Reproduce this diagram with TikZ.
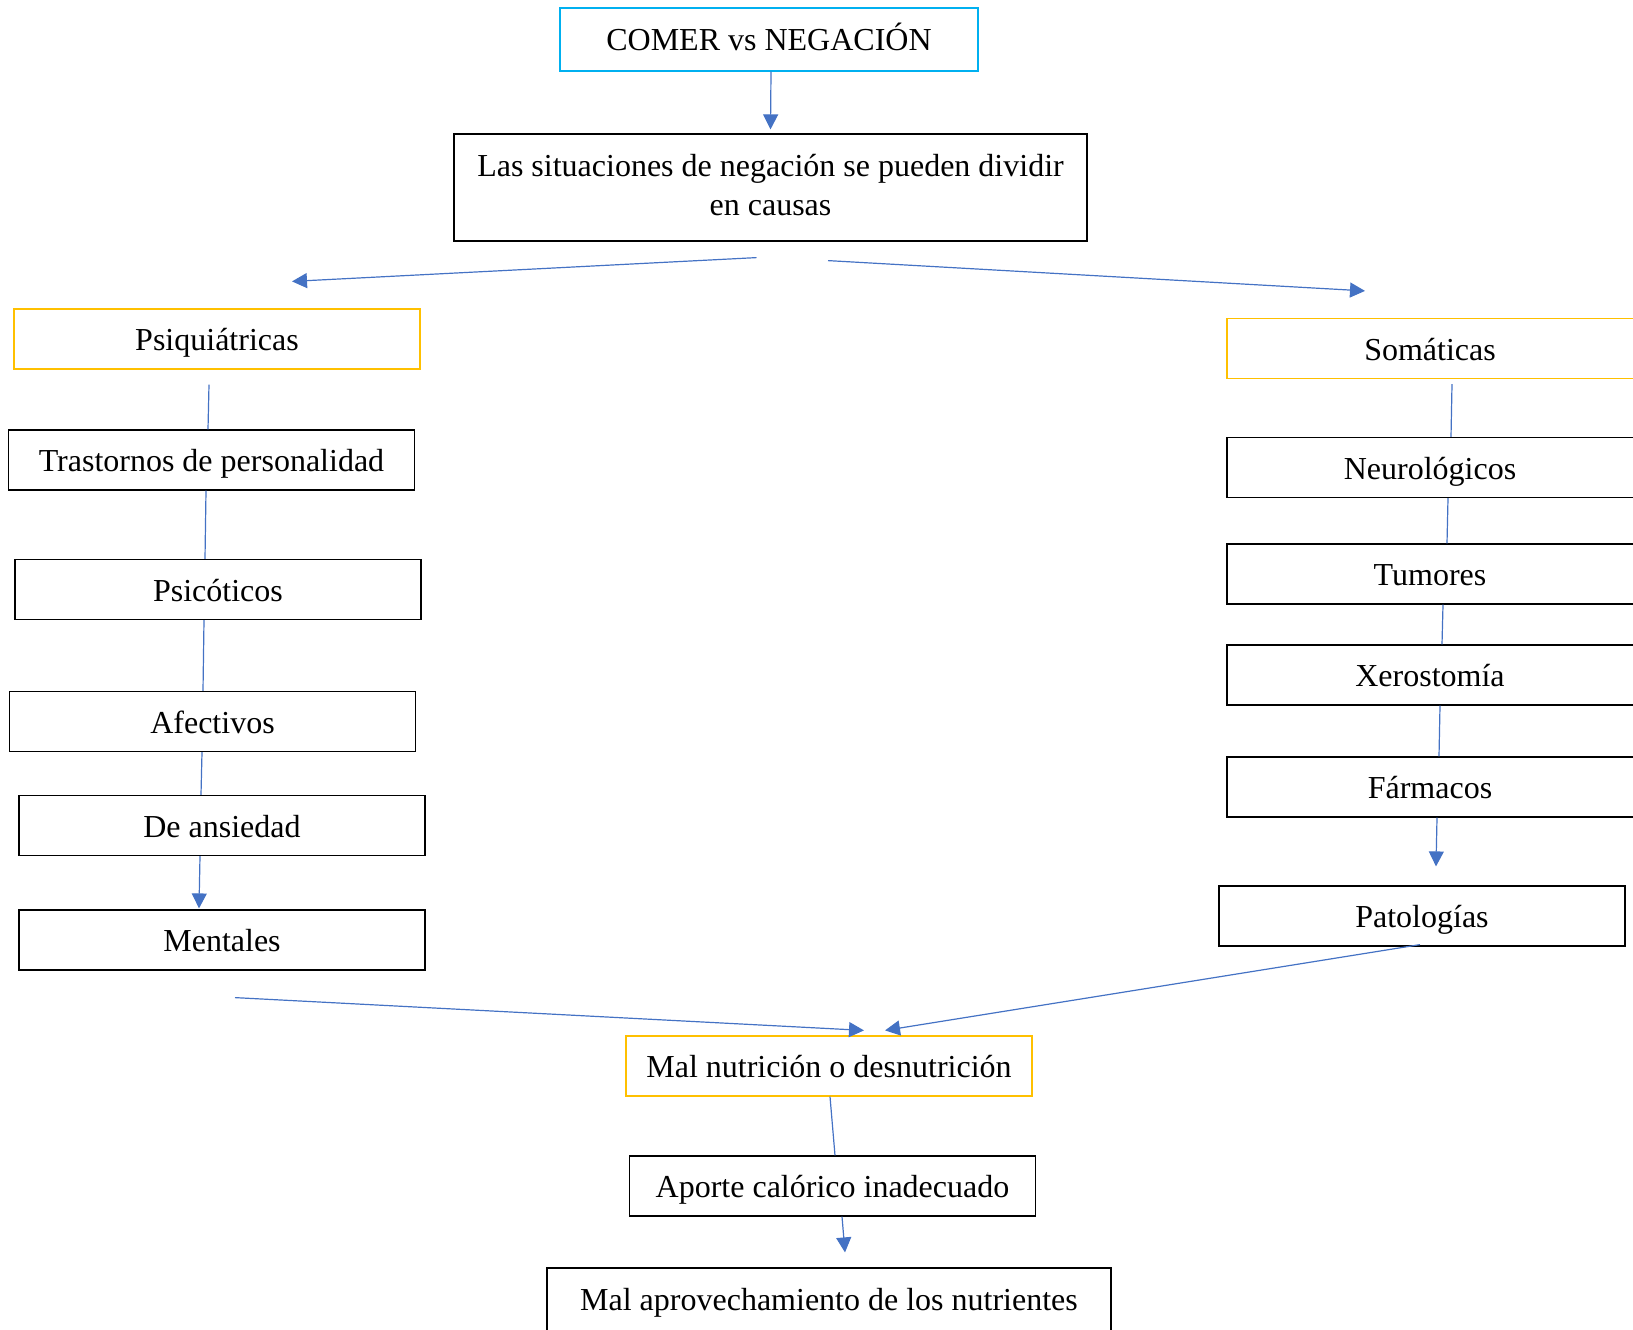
\documentclass[tikz,border=0pt]{standalone}
\usepackage{fontspec}
\setmainfont{Liberation Serif}
\usetikzlibrary{arrows.meta}
\definecolor{linea}{HTML}{4472C4}
\definecolor{amarillo}{HTML}{FFC000}
\definecolor{celeste}{HTML}{00B0F0}

\begin{document}
\begin{tikzpicture}[x=0.5pt,y=-0.5pt,>={Triangle[length=7.5pt,width=7.5pt]},
  font=\fontsize{16}{19.5}\selectfont,
  marco/.style={draw,line width=0.6pt,minimum width=203pt,minimum height=30pt,inner sep=0pt,align=center},
  caja/.style={marco,text height=12pt,text depth=0.5pt},
  derecha/.style={minimum width=206pt,execute at end node=\hspace{3pt}},
  conn/.style={draw=linea,line width=0.6pt}]
  \useasboundingbox (0,0) rectangle (1633,1329);

  % cabecera
  \node[caja,draw=celeste,minimum width=209pt,minimum height=31.5pt,text height=11pt] (comer) at (769,39.5) {COMER vs NEGACIÓN};
  \node[marco,minimum width=316.5pt,minimum height=53.5pt] (situ) at (770.5,187.5)
    {Las situaciones de negación se pueden dividir\\en causas\rule[-3pt]{0pt}{0pt}};

  % causas psiquiátricas
  \node[caja,draw=amarillo] (psiq) at (217,339) {Psiquiátricas};
  \node[caja] (tras) at (211.5,460) {Trastornos de personalidad};
  \node[caja] (psic) at (218,589.5) {Psicóticos};
  \node[caja] (afec) at (212.5,721.5) {Afectivos};
  \node[caja] (ansi) at (222,825.5) {De ansiedad};
  \node[caja] (ment) at (222,940) {Mentales};

  % causas somáticas (cortadas a la derecha)
  \node[caja,derecha,draw=amarillo] (soma) at (1433,348.5) {Somáticas};
  \node[caja,derecha] (neur) at (1433,467.5) {Neurológicos};
  \node[caja,derecha] (tumo) at (1433,574) {Tumores};
  \node[caja,derecha] (xero) at (1433,675) {Xerostomía};
  \node[caja,derecha] (farm) at (1433,787) {Fármacos};
  \node[caja] (pato) at (1422,916) {Patologías};

  % consecuencias
  \node[caja,draw=amarillo] (maln) at (829,1066) {Mal nutrición o desnutrición};
  \node[caja] (apor) at (832.5,1186) {Aporte calórico inadecuado};
  \node[caja,minimum width=282pt,minimum height=33pt,text depth=3pt] (malap) at (829,1301) {Mal aprovechamiento de los nutrientes};

  % flechas
  \draw[conn,->] ([xshift=1pt]comer.south) -- ([yshift=2pt]situ.north);
  \draw[conn,->] ([xshift=-7pt,yshift=-8pt]situ.south) -- ([xshift=37.5pt,yshift=13.5pt]psiq.north);
  \draw[conn,->] ([xshift=28.75pt,yshift=-9.5pt]situ.south) -- ([xshift=-34pt,yshift=13.5pt]soma.north);

  \draw[conn] ([xshift=-4pt,yshift=-7.5pt]psiq.south) -- ([xshift=-1.75pt]tras.north);
  \draw[conn] ([xshift=-2.75pt]tras.south) -- ([xshift=-6.5pt]psic.north);
  \draw[conn] ([xshift=-7pt]psic.south) -- ([xshift=-4.75pt]afec.north);
  \draw[conn] ([xshift=-5.25pt]afec.south) -- ([xshift=-10.5pt]ansi.north);
  \draw[conn,->] ([xshift=-11pt]ansi.south) -- ([xshift=-11.5pt,yshift=0.5pt]ment.north);

  \draw[conn] ([xshift=9.5pt,yshift=-2.5pt]soma.south) -- ([xshift=9pt]neur.north);
  \draw[conn] ([xshift=7.5pt]neur.south) -- ([xshift=7pt]tumo.north);
  \draw[conn] ([xshift=5pt]tumo.south) -- ([xshift=4.5pt]xero.north);
  \draw[conn] ([xshift=3.5pt]xero.south) -- ([xshift=3pt]farm.north);
  \draw[conn,->] ([xshift=2pt]farm.south) -- ([xshift=7pt,yshift=9.5pt]pato.north);

  \draw[conn,->] ([xshift=6.5pt,yshift=-13.5pt]ment.south) -- ([xshift=17.5pt,yshift=2.5pt]maln.north);
  \draw[conn,->] ([xshift=-1pt,yshift=1pt]pato.south) -- ([xshift=28pt,yshift=2.5pt]maln.north);
  \draw[conn] ([xshift=0.5pt]maln.south) -- ([xshift=1.25pt]apor.north);
  \draw[conn,->] ([xshift=4.75pt]apor.south) -- ([xshift=8pt,yshift=7.5pt]malap.north);
\end{tikzpicture}
\end{document}
